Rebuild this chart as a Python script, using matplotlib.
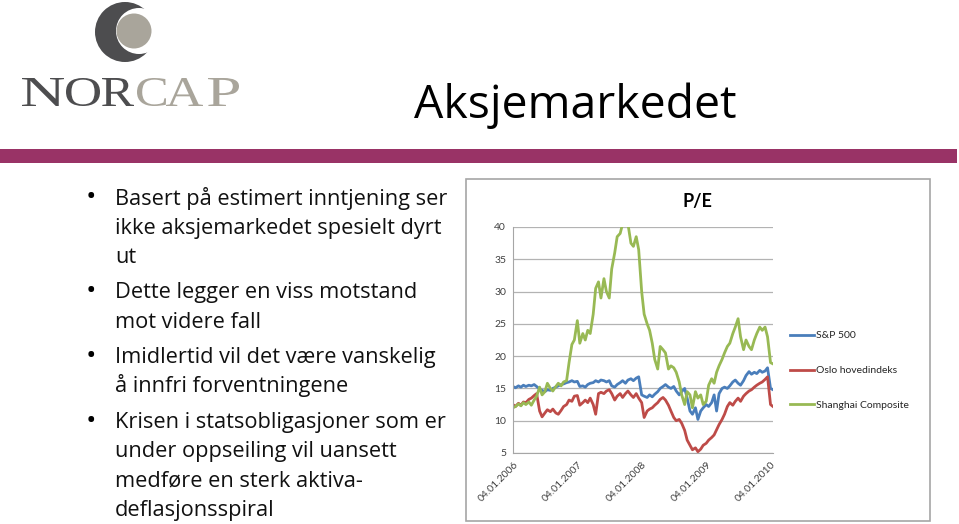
import matplotlib
matplotlib.use('Agg')
import matplotlib.pyplot as plt
import matplotlib.dates as mdates
from matplotlib.patches import Circle, Rectangle, PathPatch
from matplotlib.textpath import TextPath
from matplotlib.font_manager import FontProperties
from matplotlib.transforms import Affine2D
import pandas as pd

dates = pd.date_range('2006-01-01', '2010-01-15', freq='SMS')

sp500 = [15.3, 15.1, 15.4, 15.2, 15.5, 15.3, 15.5, 15.4, 15.6, 15.3,
         14.9, 14.7, 14.5, 14.8, 14.7, 15.0, 15.2, 15.4, 15.6, 15.7,
         15.9, 16.0, 16.2, 16.0, 16.1, 15.3, 15.4, 15.2, 15.6, 15.8,
         15.9, 16.2, 16.0, 16.3, 16.2, 16.0, 16.2, 15.4, 15.2, 15.6,
         15.9, 16.2, 15.8, 16.3, 16.5, 16.2, 16.6, 16.8, 14.0, 13.8,
         13.6, 14.0, 13.7, 14.1, 14.5, 15.0, 15.3, 15.6, 15.2, 15.0,
         15.3, 14.6, 14.0, 14.5, 15.0, 13.5, 11.5, 11.0, 12.0, 10.2,
         11.5, 12.0, 12.5, 12.2, 12.8, 14.0, 11.5, 14.2, 15.0, 15.2,
         15.0, 15.4, 16.0, 16.3, 15.8, 15.5, 16.2, 17.0, 17.6, 17.2,
         17.5, 17.3, 17.8, 17.5, 17.7, 18.2, 15.0, 14.8]

oslo = [12.5, 12.2, 12.7, 12.4, 12.9, 12.8, 13.3, 13.5, 13.9, 14.2,
        11.5, 10.6, 11.2, 11.7, 11.4, 11.8, 11.2, 11.0, 11.6, 12.2,
        12.5, 13.2, 13.0, 13.8, 13.9, 12.4, 12.8, 13.2, 12.8, 13.5,
        12.5, 11.0, 14.2, 14.4, 14.2, 14.6, 14.8, 14.2, 13.2, 13.8,
        14.2, 13.6, 14.2, 14.6, 14.0, 13.6, 14.2, 13.5, 12.8, 10.5,
        11.5, 11.8, 12.0, 12.4, 12.8, 13.3, 13.6, 13.2, 12.4, 11.5,
        10.5, 10.0, 10.2, 9.6, 8.5, 7.0, 6.2, 5.5, 5.8, 5.2,
        5.6, 6.2, 6.5, 7.0, 7.4, 7.8, 8.6, 9.4, 10.2, 11.0,
        12.2, 12.8, 12.4, 13.0, 13.5, 13.0, 13.8, 14.2, 14.6, 14.8,
        15.2, 15.5, 15.8, 16.0, 16.4, 16.8, 12.5, 12.2]

shanghai = [12.0, 12.2, 12.6, 12.3, 12.8, 12.5, 12.9, 12.4, 13.2, 13.8,
            15.2, 14.0, 14.5, 15.8, 15.0, 14.6, 15.3, 15.8, 15.4, 16.0,
            16.2, 19.0, 21.8, 22.5, 25.5, 22.0, 23.5, 22.5, 24.0, 23.5,
            26.5, 30.5, 31.5, 29.0, 32.0, 30.0, 29.0, 33.5, 36.0, 38.5,
            39.0, 40.5, 41.0, 40.5, 37.5, 37.0, 38.5, 36.5, 30.0, 26.5,
            25.0, 24.0, 22.0, 19.5, 18.0, 21.5, 21.0, 20.5, 18.0, 18.5,
            18.2, 17.5, 16.0, 14.0, 12.5, 14.5, 14.0, 12.0, 14.5, 13.5,
            14.0, 12.5, 13.0, 15.5, 16.5, 15.8, 17.5, 18.5, 19.5, 20.5,
            21.5, 22.0, 23.5, 24.5, 25.8, 23.0, 21.0, 22.5, 21.5, 21.0,
            22.5, 23.5, 24.5, 24.0, 24.5, 23.0, 19.0, 18.8]

series_names = ['S&P 500', 'Oslo hovedindeks', 'Shanghai Composite']
series_colors = ['#4a7ebb', '#be4b48', '#98b954']
x_ticks = ['2006-01-04', '2007-01-04', '2008-01-04', '2009-01-04', '2010-01-04']
y_ticks = [5, 10, 15, 20, 25, 30, 35, 40]

title = 'Aksjemarkedet'
bullets = [
    ['Basert på estimert inntjening ser', 'ikke aksjemarkedet spesielt dyrt', 'ut'],
    ['Dette legger en viss motstand', 'mot videre fall'],
    ['Imidlertid vil det være vanskelig', 'å innfri forventningene'],
    ['Krisen i statsobligasjoner som er', 'under oppseiling vil uansett',
     'medføre en sterk aktiva-', 'deflasjonsspiral'],
]

W, H = 959, 524
fig = plt.figure(figsize=(W / 100, H / 100), dpi=100)

# slide background in pixel coordinates
bg = fig.add_axes([0, 0, 1, 1])
bg.set_xlim(0, W)
bg.set_ylim(H, 0)
bg.axis('off')

# logo: crescent + wide serif lettering
bg.add_patch(Circle((125, 32), 30, color='#4d4d4f', lw=0))
bg.add_patch(Circle((139, 31), 23, color='white', lw=0))
bg.add_patch(Circle((134, 31), 17.5, color='#a9a59b', lw=0))

serif = FontProperties(family='Liberation Serif')
logo = [('N', 22, 64, '#4d4d4f'), ('O', 66, 100, '#4d4d4f'), ('R', 102, 134, '#4d4d4f'),
        ('C', 137, 166, '#a9a59b'), ('A', 166, 203, '#a9a59b'), ('P', 208, 239, '#a9a59b')]
cap_top, base = 78, 106
for ch, x0, x1, c in logo:
    tp = TextPath((0, 0), ch, size=100, prop=serif)
    ext = tp.get_extents()
    sx = (x1 - x0) / ext.width
    sy = (base - cap_top) / ext.height
    tr = Affine2D().translate(-ext.x0, -ext.y0).scale(sx, -sy).translate(x0, base)
    bg.add_patch(PathPatch(tr.transform_path(tp), color=c, lw=0))

bg.add_patch(Rectangle((0, 149), 957, 14, color='#993366', lw=0))
bg.text(414, 118, title, family='Open Sans', fontsize=33.4, color='black',
        ha='left', va='baseline')

# bullet list
y = 204.5
for para in bullets:
    bg.text(86, y + 1, '•', family='Open Sans', fontsize=20, color='black',
            ha='left', va='baseline')
    for line in para:
        bg.text(115, y, line, family='Open Sans', fontsize=15.7,
                color='#111111', ha='left', va='baseline')
        y += 29.3
    y += 6

# chart frame
bg.add_patch(Rectangle((466, 179), 930 - 466, 521 - 179, fill=False,
                       ec='#a6a6a6', lw=1.2))
bg.text(697, 202, 'P/E', family='Lato', fontsize=13, fontweight='bold',
        ha='center', va='center', color='black')

ax = fig.add_axes([513 / W, (H - 453) / H, (773 - 513) / W, (453 - 227) / H])
for vals, name, c in zip([sp500, oslo, shanghai], series_names, series_colors):
    ax.plot(dates, vals, color=c, lw=2.0, label=name, solid_joinstyle='round')

ax.set_ylim(5, 40)
ax.set_xlim(dates[0], dates[-1])
ax.set_yticks(y_ticks)
ax.set_xticks(pd.to_datetime(x_ticks))
ax.xaxis.set_major_formatter(mdates.DateFormatter('%d.%m.%Y'))
ax.grid(axis='y', color='#b3b3b3', lw=0.9)
ax.set_axisbelow(True)
for s in ['top', 'right']:
    ax.spines[s].set_visible(False)
ax.spines['left'].set_color('#a6a6a6')
ax.spines['bottom'].set_color('#a6a6a6')
ax.tick_params(length=0, labelsize=7.5, labelcolor='#404040', pad=5)
for lab in ax.get_yticklabels() + ax.get_xticklabels():
    lab.set_family('Lato')
plt.setp(ax.get_xticklabels(), rotation=45, ha='right', rotation_mode='anchor')

leg = ax.legend(loc='upper left', bbox_to_anchor=(785 / W, (H - 326) / H),
                bbox_transform=fig.transFigure, frameon=False,
                prop={'family': 'Lato', 'size': 7.5}, handlelength=2.3,
                handletextpad=0.2, labelspacing=2.45, borderpad=0)
for t in leg.get_texts():
    t.set_color('#262626')

fig.savefig('out.png', dpi=100)
